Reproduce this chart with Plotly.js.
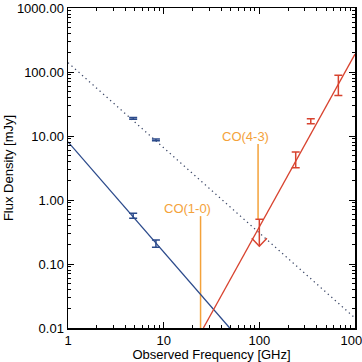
<!DOCTYPE html>
<html>
<head>
<meta charset="utf-8">
<script src="https://cdn.plot.ly/plotly-3.0.1.min.js"></script>
<style>
  html, body { margin: 0; padding: 0; background: #ffffff; }
  #plot { width: 362px; height: 362px; }
</style>
</head>
<body>
<div id="plot"></div>
<script>
// Radio continuum points (GHz, mJy)
const radioFreq = [4.8, 8.3];
const radioFlux = [0.57, 0.21];
const radioErr = [0.05, 0.027];

// Steep-spectrum comparison points at the same frequencies
const steepFreq = [4.8, 8.3];
const steepFlux = [18.9, 8.7];
const steepErr = [0.6, 0.3];

// Submillimetre dust points
const dustFreq = [240, 345, 670];
const dustFlux = [4.4, 17.1, 66];
const dustErr = [1.2, 1.5, 23];

// Upper limit at 100 GHz
const limitFreq = [100];
const limitFlux = [0.5];
const limitTip = [0.19];

// Power-law curves (end points)
const radioFitFreq = [1, 49];
const radioFitFlux = [8.1, 0.01];
const steepFitFreq = [1, 1000];
const steepFitFlux = [140, 0.0143];
const dustFitFreq = [26, 1000];
const dustFitFlux = [0.01, 190];

// Redshifted CO line markers
const coNames = ['CO(1-0)', 'CO(4-3)'];
const coFreq = [24.3, 97];
const coLow = [0.01, 0.5];
const coHigh = [0.56, 7.5];

// Axis ticks
const xTickVals = [1, 10, 100, 1000];
const xTickText = ['1', '10', '100', '1000'];
const yTickVals = [0.01, 0.1, 1, 10, 100, 1000];
const yTickText = ['0.01', '0.10', '1.00', '10.00', '100.00', '1000.00'];

const BLUE = '#2b4a8b';
const RED = '#d8432f';
const ORANGE = '#f4a23a';
const DOTS = '#3c4868';
const FONT = 'Liberation Sans, Arial, Helvetica, sans-serif';

const traces = [];

// CO line markers
coNames.forEach((name, i) => {
  traces.push({
    x: [coFreq[i], coFreq[i]], y: [coLow[i], coHigh[i]],
    mode: 'lines', line: { color: ORANGE, width: 1.5 },
    hoverinfo: 'skip', showlegend: false
  });
});

// fitted lines
traces.push({ x: steepFitFreq, y: steepFitFlux, mode: 'lines',
  line: { color: DOTS, width: 1.3, dash: '1.3px,3.4px' }, showlegend: false });
traces.push({ x: radioFitFreq, y: radioFitFlux, mode: 'lines',
  line: { color: BLUE, width: 1.3 }, showlegend: false });
traces.push({ x: dustFitFreq, y: dustFitFlux, mode: 'lines',
  line: { color: RED, width: 1.3 }, showlegend: false });

// measured points with error bars
function errPoints(x, y, e, color) {
  return {
    x: x, y: y, mode: 'markers', marker: { size: 1, color: color, opacity: 0 },
    error_y: { type: 'data', array: e, visible: true, color: color, thickness: 1.5, width: 4 },
    showlegend: false
  };
}
traces.push(errPoints(radioFreq, radioFlux, radioErr, BLUE));
traces.push(errPoints(steepFreq, steepFlux, steepErr, BLUE));
traces.push(errPoints(dustFreq, dustFlux, dustErr, RED));

// upper limit: cap, stem and open arrow head
const capF = 1.1, headW = 1.2, headH = 1.33;
const lx = limitFreq[0], ly = limitFlux[0], ty = limitTip[0];
traces.push({
  x: [lx / capF, lx * capF, null, lx, lx, null, lx / headW, lx, lx * headW],
  y: [ly, ly, null, ly, ty, null, ty * headH, ty, ty * headH],
  mode: 'lines', line: { color: RED, width: 1.5 }, connectgaps: false,
  showlegend: false
});

const annotations = coNames.map((name, i) => ({
  x: Math.log10(coFreq[i]), y: Math.log10(coHigh[i]), xref: 'x', yref: 'y',
  text: name, showarrow: false, xanchor: 'center', yanchor: 'middle',
  xshift: -13, yshift: 8,
  font: { family: FONT, size: 13, color: ORANGE }
}));

const axisCommon = {
  type: 'log',
  showgrid: false, zeroline: false,
  showline: true, linecolor: '#000', linewidth: 1.5, mirror: 'allticks',
  ticks: 'inside', ticklen: 6, tickwidth: 1, tickcolor: '#000',
  ticklabeloverflow: 'allow',
  tickfont: { family: FONT, size: 13, color: '#000' },
  minor: { ticks: 'inside', ticklen: 3, tickwidth: 1, tickcolor: '#000', dtick: 'D1', showgrid: false }
};

const layout = {
  width: 362, height: 362,
  margin: { l: 68, r: 7, t: 8, b: 34, pad: 0 },
  paper_bgcolor: '#fff', plot_bgcolor: '#fff',
  showlegend: false,
  font: { family: FONT, size: 13, color: '#000' },
  xaxis: Object.assign({}, axisCommon, {
    range: [0, 3], tickmode: 'array', tickvals: xTickVals, ticktext: xTickText,
    title: { text: 'Observed Frequency [GHz]', font: { family: FONT, size: 13 }, standoff: 0 }
  }),
  yaxis: Object.assign({}, axisCommon, {
    range: [-2, 3], tickmode: 'array', tickvals: yTickVals, ticktext: yTickText,
    title: { text: 'Flux Density [mJy]', font: { family: FONT, size: 13 }, standoff: 0 }
  }),
  annotations: annotations
};

Plotly.newPlot('plot', traces, layout, { staticPlot: true, displayModeBar: false });
</script>
</body>
</html>
